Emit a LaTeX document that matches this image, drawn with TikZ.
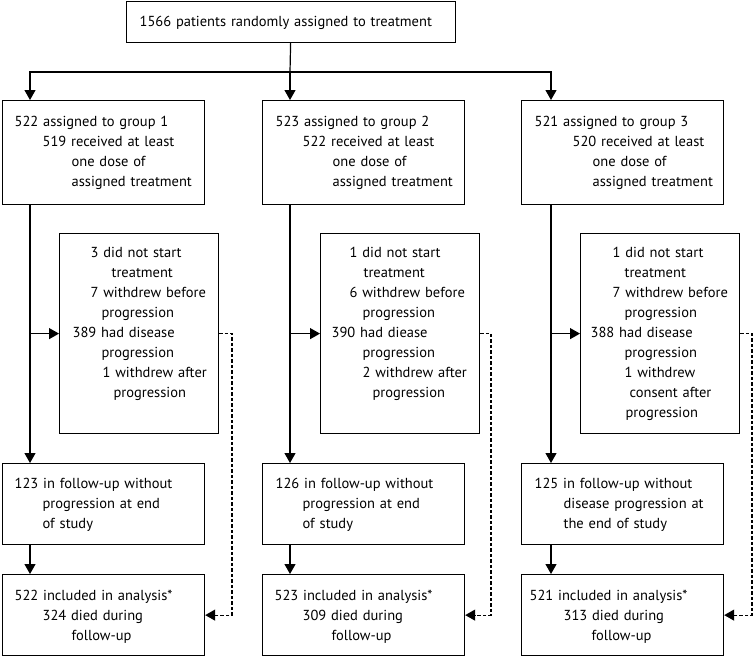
\documentclass[tikz,border=0pt]{standalone}
\usepackage{fontspec}
\setmainfont{PT Sans}
\usetikzlibrary{arrows.meta}
\tikzset{
	box/.style={draw, line width=1.2pt, anchor=north west, inner xsep=0pt, inner ysep=0pt, align=left, font=\fontsize{14.5}{20}\selectfont},
	topbox/.style={box, text width=329pt, text height=25pt, text depth=16pt},
	grpbox/.style={box, text width=202pt, text height=26pt, text depth=78pt},
	sidebox/.style={box, text width=159pt, text height=24pt, text depth=176pt},
	fupbox/.style={box, text width=202pt, text height=25pt, text depth=56pt},
	anlbox/.style={box, text width=202pt, text height=26pt, text depth=55pt},
	flow/.style={line width=1.2pt, -{Triangle[width=11pt,length=10pt]}},
	dflow/.style={flow, dash pattern=on 3.5pt off 2pt},
}
\newcommand{\ind}[1]{\hspace*{#1pt}}

\begin{document}
\begin{tikzpicture}[x=1pt, y=-1pt]
		%%%%% START %%%%%
		\useasboundingbox (0, 0) rectangle (754, 657);
		
		% columns and dashed returns
		\coordinate (c1) at (30, 0);
		\coordinate (c2) at (290, 0);
		\coordinate (c3) at (551, 0);
		\coordinate (d1) at (232, 0);
		\coordinate (d2) at (491, 0);
		\coordinate (d3) at (752, 0);
		\coordinate (split) at (290, 72);
		
		\node[topbox] (top) at (125.5, 1) {\ind{13.5}1566 patients randomly assigned to treatment};
		
		% group boxes
		\node[grpbox] (g1) at (2, 100) {\ind{12}522 assigned to group 1\\\ind{40}519 received at least\\\ind{69}one dose of\\\ind{69}assigned treatment};
		\node[grpbox] (g2) at (262, 100) {\ind{13}523 assigned to group 2\\\ind{40}522 received at least\\\ind{70}one dose of\\\ind{70}assigned treatment};
		\node[grpbox] (g3) at (521, 100) {\ind{13}521 assigned to group 3\\\ind{51}520 received at least\\\ind{71}one dose of\\\ind{71}assigned treatment};
		
		% side boxes
		\node[sidebox] (s1) at (59, 233) {\ind{31}3 did not start\\\ind{52}treatment\\\ind{31}7 withdrew before\\\ind{42}progression\\\ind{13}389 had disease\\\ind{42}progression\\\ind{43}1 withdrew after\\\ind{54}progression};
		\node[sidebox] (s2) at (320, 233) {\ind{29}1 did not start\\\ind{43}treatment\\\ind{29}6 withdrew before\\\ind{42}progression\\\ind{11}390 had diease\\\ind{42}progression\\\ind{42}2 withdrew after\\\ind{52}progression};
		\node[sidebox] (s3) at (580, 233) {\ind{32}1 did not start\\\ind{44}treatment\\\ind{32}7 withdrew before\\\ind{44}progression\\\ind{10}388 had disease\\\ind{44}progression\\\ind{44}1 withdrew\\\ind{49}consent after\\\ind{45}progression};
		
		% follow-up boxes
		\node[fupbox] (f1) at (2, 463) {\ind{12}123 in follow-up without\\\ind{40}progression at end\\\ind{40}of study};
		\node[fupbox] (f2) at (262, 463) {\ind{13}126 in follow-up without\\\ind{40}progression at end\\\ind{40}of study};
		\node[fupbox] (f3) at (521, 463) {\ind{13}125 in follow-up without\\\ind{42}disease progression at\\\ind{42}the end of study};
		
		% analysis boxes
		\node[anlbox] (a1) at (2, 574) {\ind{12}522 included in analysis*\\\ind{40}324 died during\\\ind{69}follow-up};
		\node[anlbox] (a2) at (262, 574) {\ind{12}523 included in analysis*\\\ind{40}309 died during\\\ind{69}follow-up};
		\node[anlbox] (a3) at (521, 574) {\ind{8}521 included in analysis*\\\ind{42}313 died during\\\ind{70}follow-up};
		
		% randomisation
		\draw[line width=1.2pt] (top.south) -- (split);
		\draw[flow] (split) -| (c1 |- g1.north);
		\draw[flow] (split) -- (c2 |- g2.north);
		\draw[flow] (split) -| (c3 |- g3.north);
		
		% main columns
		\draw[flow] (c1 |- g1.south) -- (c1 |- f1.north);
		\draw[flow] (c2 |- g2.south) -- (c2 |- f2.north);
		\draw[flow] (c3 |- g3.south) -- (c3 |- f3.north);
		\draw[flow] (c1 |- s1.west) -- (s1.west);
		\draw[flow] (c2 |- s2.west) -- (s2.west);
		\draw[flow] (c3 |- s3.west) -- (s3.west);
		\draw[flow] (c1 |- f1.south) -- (c1 |- a1.north);
		\draw[flow] (c2 |- f2.south) -- (c2 |- a2.north);
		\draw[flow] (c3 |- f3.south) -- (c3 |- a3.north);
		
		% dashed returns
		\draw[dflow] (s1.east) -- (d1 |- s1.east) -- (d1 |- a1.east) -- (a1.east);
		\draw[dflow] (s2.east) -- (d2 |- s2.east) -- (d2 |- a2.east) -- (a2.east);
		\draw[dflow] (s3.east) -- (d3 |- s3.east) -- (d3 |- a3.east) -- (a3.east);
		%%%%% END %%%%%
\end{tikzpicture}
\end{document}
